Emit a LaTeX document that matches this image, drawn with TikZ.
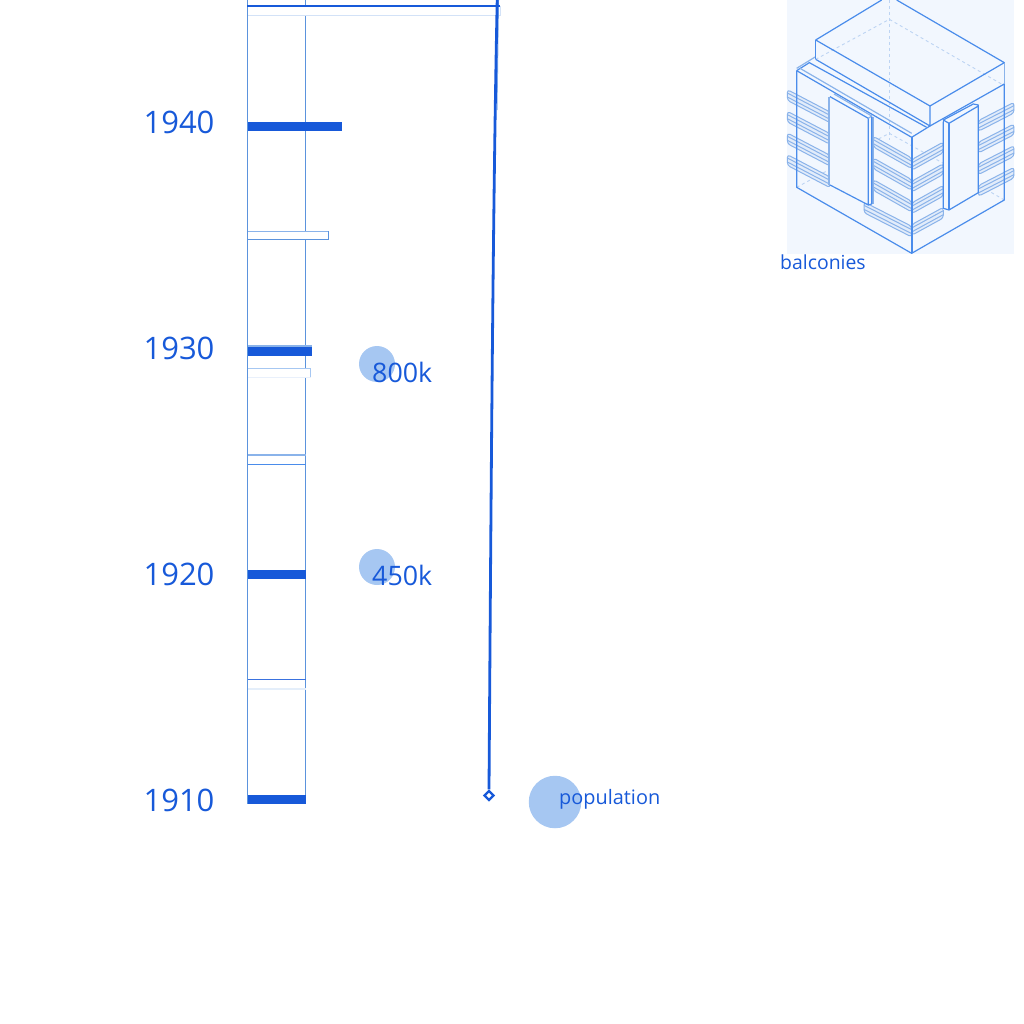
\documentclass[tikz,border=0pt]{standalone}
\usepackage{fontspec}
\setmainfont{Open Sans}
\usetikzlibrary{shapes.geometric}

\definecolor{inkblue}{HTML}{1759D9}
\definecolor{axisblue}{HTML}{5B93DD}
\definecolor{midblue}{HTML}{4A8CEB}
\definecolor{softblue}{HTML}{8AB3EA}
\definecolor{paleblue}{HTML}{D3E2F7}
\definecolor{dotblue}{HTML}{A6C7F2}
\definecolor{panelblue}{HTML}{F2F7FE}

% one balcony: outline plus two inner lines, in reference zoom units
\newcommand{\balcony}[4]{
    \draw[balcline, fill=softblue!25, rounded corners=3pt] (#1,#2-16) -- (#3,#4-16) -- (#3,#4+16) -- (#1,#2+16) -- cycle;
    \draw[balcline] (#1,#2-6) -- (#3,#4-6);
    \draw[balcline] (#1,#2+6) -- (#3,#4+6);
}

\begin{document}
\begin{tikzpicture}[x=1pt, y=-1pt]
    % Styles
    \tikzset{
        year_label/.style={anchor=center, text=inkblue, font=\fontsize{31}{31}\selectfont, inner sep=0pt},
        value_label/.style={anchor=west, text=inkblue, font=\fontsize{26.8}{27}\selectfont, inner sep=0pt},
        small_label/.style={anchor=west, text=inkblue, font=\fontsize{19.4}{20}\selectfont, inner sep=0pt},
        dot/.style={circle, fill=dotblue, inner sep=0pt},
        solid_bar/.style={rectangle, anchor=north west, fill=inkblue, inner sep=0pt, minimum height=9pt},
        open_bar/.style={rectangle, anchor=north west, fill=white, inner sep=0pt, minimum height=9pt},
        axis/.style={draw=axisblue, line width=1.1pt},
        wall/.style={draw=midblue, line width=1.2pt, line join=round},
        hidden/.style={draw=paleblue!70!softblue, line width=0.9pt, dashed},
        balcline/.style={draw=softblue, line width=1pt}
    }

    \useasboundingbox (0,0) rectangle (1024,1024);

    % --- Axis ---
    \coordinate (axis_left_top) at (247.5,0);
    \coordinate (axis_left_bot) at (247.5,804);
    \coordinate (axis_right_top) at (305.5,0);
    \coordinate (axis_right_bot) at (305.5,804);
    \draw[axis] (axis_right_top) -- (axis_right_bot);

    % --- Bars ---
    \node[solid_bar, minimum width=58.5pt] (bar1910) at (247,795) {};
    \node[solid_bar, minimum width=58.5pt] (bar1920) at (247,570) {};
    \node[solid_bar, minimum width=95pt] (bar1940) at (247,122) {};
    \node[solid_bar, minimum width=65pt, minimum height=8.5pt] (bar1930) at (247,347) {};
    \draw[softblue, line width=2pt] ([yshift=1pt]bar1930.north west) -- ([yshift=1pt]bar1930.north east);

    \node[open_bar, minimum width=58.5pt] (bar1915) at (247,679.5) {};
    \draw[axisblue, line width=1pt] (bar1915.north east) -- (bar1915.south east);
    \draw[inkblue!85!white, line width=1pt] (bar1915.north west) -- (bar1915.north east);
    \draw[paleblue!60!white, line width=1.2pt] (bar1915.south west) -- (bar1915.south east);

    \node[open_bar, minimum width=58.5pt] (bar1925) at (247,455) {};
    \draw[axisblue, line width=1pt] (bar1925.north east) -- (bar1925.south east);
    \draw[softblue, line width=1.4pt] (bar1925.north west) -- (bar1925.north east);
    \draw[midblue, line width=1.4pt] (bar1925.south west) -- (bar1925.south east);

    \node[open_bar, minimum width=63.5pt] (bar1929) at (247,368) {};
    \draw[dotblue, line width=0.9pt] (bar1929.north west) -- (bar1929.north east) -- (bar1929.south east);
    \draw[paleblue!50!white, line width=0.9pt] (bar1929.south west) -- (bar1929.south east);

    \node[open_bar, minimum width=81.5pt, minimum height=8pt] (bar1935) at (247,231.5) {};
    \draw[softblue, line width=1pt] (bar1935.north west) -- (bar1935.north east);
    \draw[axisblue, line width=1pt] (bar1935.north east) -- (bar1935.south east) -- (bar1935.south west);

    \node[open_bar, minimum width=253pt] (bar1945) at (247,6) {};
    \draw[paleblue, line width=1.1pt] (bar1945.south west) -- (bar1945.south east) -- (bar1945.north east);
    \draw[axis] (axis_left_top) -- (axis_left_bot);

    % --- Population line ---
    \coordinate (line_top) at (497.2,0);
    \node[diamond, draw=inkblue, fill=white, line width=2.3pt, inner sep=0pt, minimum size=10pt] (line_end) at (489,795.5) {};
    \draw[softblue, line width=1pt] (498.5,0) -- (497,110);
    \draw[inkblue, line width=2.8pt] (line_top) .. controls (493,200) and (491,500) .. (line_end.north);
    \draw[inkblue, line width=1.2pt] (bar1945.north west) -- (bar1945.north east);

    % --- Year labels ---
    \node[year_label] (y1940) at (179,122) {1940};
    \node[year_label] (y1930) at (179,348) {1930};
    \node[year_label] (y1920) at (179,574) {1920};
    \node[year_label] (y1910) at (179,800.5) {1910};

    % --- Population dots ---
    \node[dot, minimum size=36pt] (dot800) at (377,364) {};
    \node[dot, minimum size=36pt] (dot450) at (377,567) {};
    \node[dot, minimum size=52.5pt] (dot_pop) at (555,802) {};
    \node[value_label] (val800) at (372,372.5) {800k};
    \node[value_label] (val450) at (372,575.5) {450k};
    \node[small_label, font=\fontsize{19.9}{20}\selectfont] (pop_label) at (559,799) {population};

    % --- Building ---
    \node[small_label] (balc_label) at (780,262) {balconies};
    \fill[panelblue] (787,0) rectangle (1014,253.5);

    \begin{scope}[shift={(770pt,0pt)}, x=0.3333pt, y=-0.3333pt]
        % hidden edges
        \draw[hidden] (358,0) -- (358,420);
        \draw[hidden] (137,178) -- (358,58) -- (703,257);
        \draw[hidden] (80,562) -- (185,505);
        \draw[hidden] (703,600) -- (625,555);
        \draw[hidden] (310,425) -- (358,400) -- (520,490);

        % balconies
        \foreach \dy in {0,65,130,195} {
            \balcony{52}{285+\dy}{180}{352+\dy}
            \balcony{625}{378+\dy}{732}{323+\dy}
        }
        \foreach \dy in {0,65,130} {
            \balcony{310}{425+\dy}{425}{490+\dy}
            \balcony{425}{495+\dy}{520}{442+\dy}
        }
        \balcony{282}{622}{425}{695}
        \balcony{425}{690}{520}{638}

        % walls
        \draw[wall] (80,212) -- (80,562) -- (425,760) -- (703,600) -- (703,252);
        \draw[wall, line width=2pt] (425,412) -- (425,760);
        \draw[wall] (80,212) -- (425,412);
        \draw[wall] (425,412) -- (480,378) -- (703,252);

        % lip under the roof block
        \draw[wall] (80,212) -- (118,188) -- (470,382);
        \draw[wall, draw=softblue] (90,205) -- (425,400);
        \draw[wall, draw=softblue] (80,205) -- (137,170);

        % roof block
        \draw[wall] (137,120) -- (137,178);
        \draw[wall] (137,178) -- (480,378) -- (480,318);
        \draw[wall] (137,120) -- (335,0);
        \draw[wall] (380,0) -- (703,188) -- (480,318) -- (137,120);
        \draw[wall, draw=softblue] (703,188) -- (703,252);

        % left panel
        \fill[panelblue] (180,290) -- (295,355) -- (295,615) -- (180,555) -- cycle;
        \draw[wall, draw=softblue, line width=2pt] (178,290) -- (178,555);
        \draw[wall, draw=softblue, line width=2.4pt] (309,350) -- (309,612);
        \draw[wall] (180,290) -- (295,355) -- (295,615) -- (180,555);
        \draw[wall, draw=softblue] (192,282) -- (305,348) -- (295,355);
        \draw[wall] (305,350) -- (305,612) -- (295,615);

        % right panel
        \fill[panelblue] (520,365) -- (625,315) -- (625,578) -- (520,630) -- cycle;
        \draw[wall] (520,365) -- (520,625) -- (537,630) -- (625,578) -- (625,315) -- (610,312) -- (520,360) -- (537,370) -- (625,318);
        \draw[wall] (520,360) -- (520,365);
        \draw[wall, line width=1.8pt] (537,370) -- (537,630);
    \end{scope}

\end{tikzpicture}
\end{document}
